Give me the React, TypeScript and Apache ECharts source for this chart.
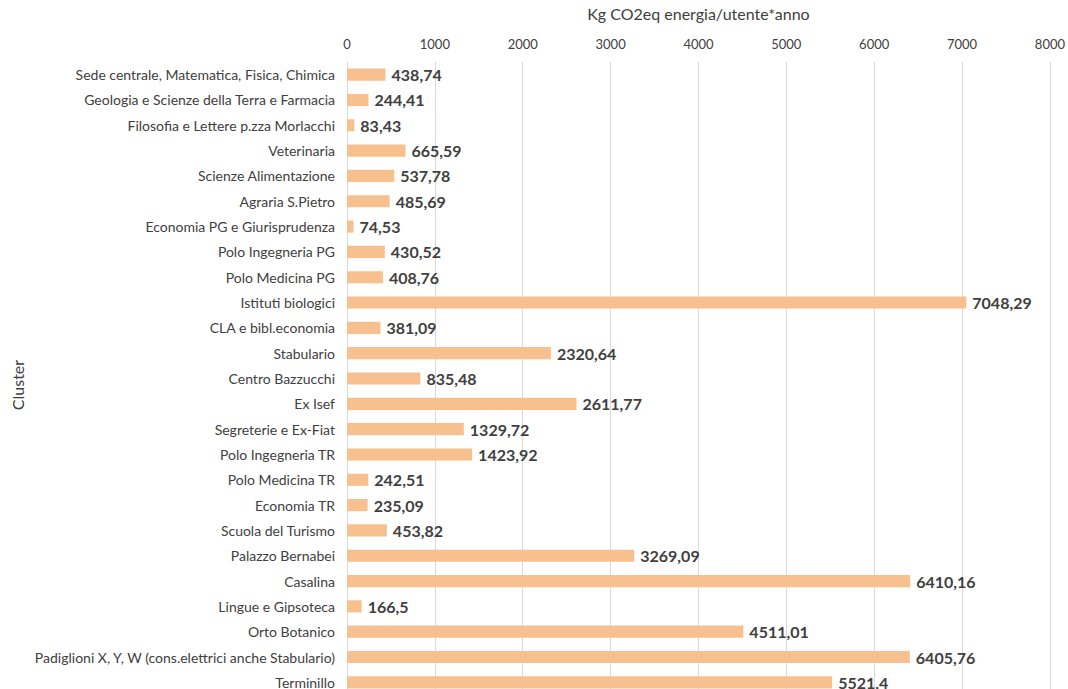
import React, { useEffect, useRef } from "react";
import * as echarts from "echarts";

const categories = [
  "Sede centrale, Matematica, Fisica, Chimica",
  "Geologia e Scienze della Terra e Farmacia",
  "Filosofia e Lettere p.zza Morlacchi",
  "Veterinaria",
  "Scienze Alimentazione",
  "Agraria S.Pietro",
  "Economia PG e Giurisprudenza",
  "Polo Ingegneria PG",
  "Polo Medicina PG",
  "Istituti biologici",
  "CLA e bibl.economia",
  "Stabulario",
  "Centro Bazzucchi",
  "Ex Isef",
  "Segreterie e Ex-Fiat",
  "Polo Ingegneria TR",
  "Polo Medicina TR",
  "Economia TR",
  "Scuola del Turismo",
  "Palazzo Bernabei",
  "Casalina",
  "Lingue e Gipsoteca",
  "Orto Botanico",
  "Padiglioni X, Y, W (cons.elettrici anche Stabulario)",
  "Terminillo",
];

const values = [
  438.74, 244.41, 83.43, 665.59, 537.78, 485.69, 74.53, 430.52, 408.76, 7048.29,
  381.09, 2320.64, 835.48, 2611.77, 1329.72, 1423.92, 242.51, 235.09, 453.82,
  3269.09, 6410.16, 166.5, 4511.01, 6405.76, 5521.4,
];

const xAxisTitle = "Kg CO2eq energia/utente*anno";
const yAxisTitle = "Cluster";

const FONT = "Lato, 'Open Sans', sans-serif";

export default function App() {
  const ref = useRef<HTMLDivElement>(null);
  useEffect(() => {
    if (!ref.current) return;
    const chart = echarts.init(ref.current, undefined, { renderer: "svg" });
    chart.setOption({
      animation: false,
      backgroundColor: "#ffffff",
      textStyle: { fontFamily: FONT },
      grid: { left: 347, right: 16, top: 61, bottom: 0, containLabel: false },
      xAxis: {
        type: "value",
        position: "top",
        min: 0,
        max: 8000,
        interval: 1000,
        name: xAxisTitle,
        nameLocation: "middle",
        nameGap: 41,
        nameTextStyle: { fontSize: 16, color: "#404040", fontFamily: FONT },
        axisLine: { show: false },
        axisTick: { show: false },
        axisLabel: {
          fontSize: 13,
          color: "#404040",
          margin: 12,
          fontFamily: FONT,
          formatter: (v: number) => String(v),
        },
        splitLine: { show: true, lineStyle: { color: "#D9D9D9", width: 1 } },
      },
      yAxis: {
        type: "category",
        data: categories,
        inverse: true,
        axisLine: { show: false },
        axisTick: { show: false },
        axisLabel: { fontSize: 14, color: "#404040", margin: 12, fontFamily: FONT },
        splitLine: { show: false },
      },
      graphic: [
        {
          type: "text",
          x: 17,
          y: 385,
          rotation: Math.PI / 2,
          style: {
            text: yAxisTitle,
            fontSize: 16,
            fill: "#404040",
            fontFamily: FONT,
            align: "center",
            verticalAlign: "middle",
          },
        },
      ],
      series: [
        {
          type: "bar",
          data: values,
          barCategoryGap: "52%",
          itemStyle: { color: "#F8C08F" },
          label: {
            show: true,
            position: "right",
            distance: 6,
            fontSize: 16,
            fontWeight: "bold",
            color: "#404040",
            fontFamily: FONT,
            formatter: (p: any) => String(p.value).replace(".", ","),
          },
        },
      ],
    });
    return () => chart.dispose();
  }, []);
  return (
    <div
      ref={ref}
      style={{ position: "fixed", left: 0, top: 0, width: 1068, height: 695 }}
    />
  );
}
